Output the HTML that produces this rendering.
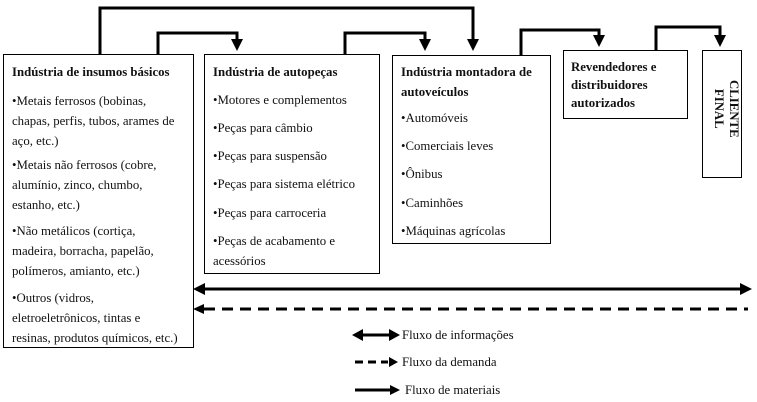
<!DOCTYPE html>
<html><head><meta charset="utf-8"><style>
body{margin:0;width:757px;height:402px;background:#fff;position:relative;overflow:hidden;font-family:"Liberation Serif",serif;font-size:12.8px;color:#111}
.box{position:absolute;border:1.3px solid #000;box-sizing:border-box;background:#fff}
.t{position:absolute;white-space:nowrap;line-height:20px}
b{font-weight:bold}
</style></head><body>
<svg width="757" height="402" style="position:absolute;left:0;top:0">
<defs>
<marker id="a" markerWidth="4" markerHeight="4" refX="3" refY="2" orient="auto" markerUnits="strokeWidth"><path d="M0,0 L4,2 L0,4 z" fill="#000"/></marker>
</defs>
<g stroke="#000" stroke-width="3" fill="none">
<polyline points="100,54 100,8 473,8 473,48" marker-end="url(#a)"/>
<polyline points="158,54 158,33 237,33 237,48" marker-end="url(#a)"/>
<polyline points="345,54 345,33 425,33 425,48" marker-end="url(#a)"/>
<polyline points="521,55 521,30 599,30 599,44" marker-end="url(#a)"/>
<polyline points="656,50 656,27 720,27 720,44" marker-end="url(#a)"/>
<line x1="202" y1="289" x2="743" y2="289"/>
<line x1="204" y1="309" x2="748" y2="309" stroke-dasharray="11,7"/>
<line x1="360" y1="335" x2="392" y2="335"/>
<line x1="355" y1="362" x2="388" y2="362" stroke-dasharray="8,5"/>
<line x1="355" y1="390" x2="392" y2="390"/>
</g>
<g fill="#000">
<path d="M193,289 L205,283 L205,295 z"/><path d="M752,289 L740,283 L740,295 z"/>
<path d="M193,309 L204,304 L204,314 z"/>
<path d="M352,335 L363,329 L363,341 z"/><path d="M400,335 L389,329 L389,341 z"/>
<path d="M398,362 L389,357 L389,367 z"/>
<path d="M400,390 L390,385 L390,395 z"/>
</g>
</svg>
<div class="box" style="left:3px;top:54px;width:191px;height:294px"></div>
<div class="box" style="left:204px;top:54px;width:176px;height:220px"></div>
<div class="box" style="left:392px;top:55px;width:159px;height:189px"></div>
<div class="box" style="left:563px;top:50px;width:125px;height:69px"></div>
<div class="box" style="left:702px;top:50px;width:40px;height:128px"></div>

<div class="t" style="left:12px;top:62px"><b>Indústria de insumos básicos</b></div>
<div class="t" style="left:12px;top:91px">•Metais ferrosos (bobinas,<br>chapas, perfis, tubos, arames de<br>aço, etc.)</div>
<div class="t" style="left:12px;top:155px">•Metais não ferrosos (cobre,<br>alumínio, zinco, chumbo,<br>estanho, etc.)</div>
<div class="t" style="left:12px;top:221px">•Não metálicos (cortiça,<br>madeira, borracha, papelão,<br>polímeros, amianto, etc.)</div>
<div class="t" style="left:12px;top:288px">•Outros (vidros,<br>eletroeletrônicos, tintas e<br>resinas, produtos químicos, etc.)</div>

<div class="t" style="left:213px;top:62px"><b>Indústria de autopeças</b></div>
<div class="t" style="left:213px;top:90px">•Motores e complementos</div>
<div class="t" style="left:213px;top:118px">•Peças para câmbio</div>
<div class="t" style="left:213px;top:146px">•Peças para suspensão</div>
<div class="t" style="left:213px;top:174px">•Peças para sistema elétrico</div>
<div class="t" style="left:213px;top:203px">•Peças para carroceria</div>
<div class="t" style="left:213px;top:231px">•Peças de acabamento e<br>acessórios</div>

<div class="t" style="left:401px;top:62px"><b>Indústria montadora de<br>autoveículos</b></div>
<div class="t" style="left:401px;top:108px">•Automóveis</div>
<div class="t" style="left:401px;top:136px">•Comerciais leves</div>
<div class="t" style="left:401px;top:164px">•Ônibus</div>
<div class="t" style="left:401px;top:193px">•Caminhões</div>
<div class="t" style="left:401px;top:221px">•Máquinas agrícolas</div>

<div class="t" style="left:571px;top:58px;line-height:18px"><b>Revendedores e<br>distribuidores<br>autorizados</b></div>
<div class="t" style="left:741px;top:80px;transform:rotate(90deg);transform-origin:0 0;line-height:15px;font-weight:bold;text-align:center">CLIENTE<br>FINAL</div>

<div class="t" style="left:402px;top:325px">Fluxo de informações</div>
<div class="t" style="left:402px;top:352px">Fluxo da demanda</div>
<div class="t" style="left:405px;top:380px">Fluxo de materiais</div>
</body></html>
